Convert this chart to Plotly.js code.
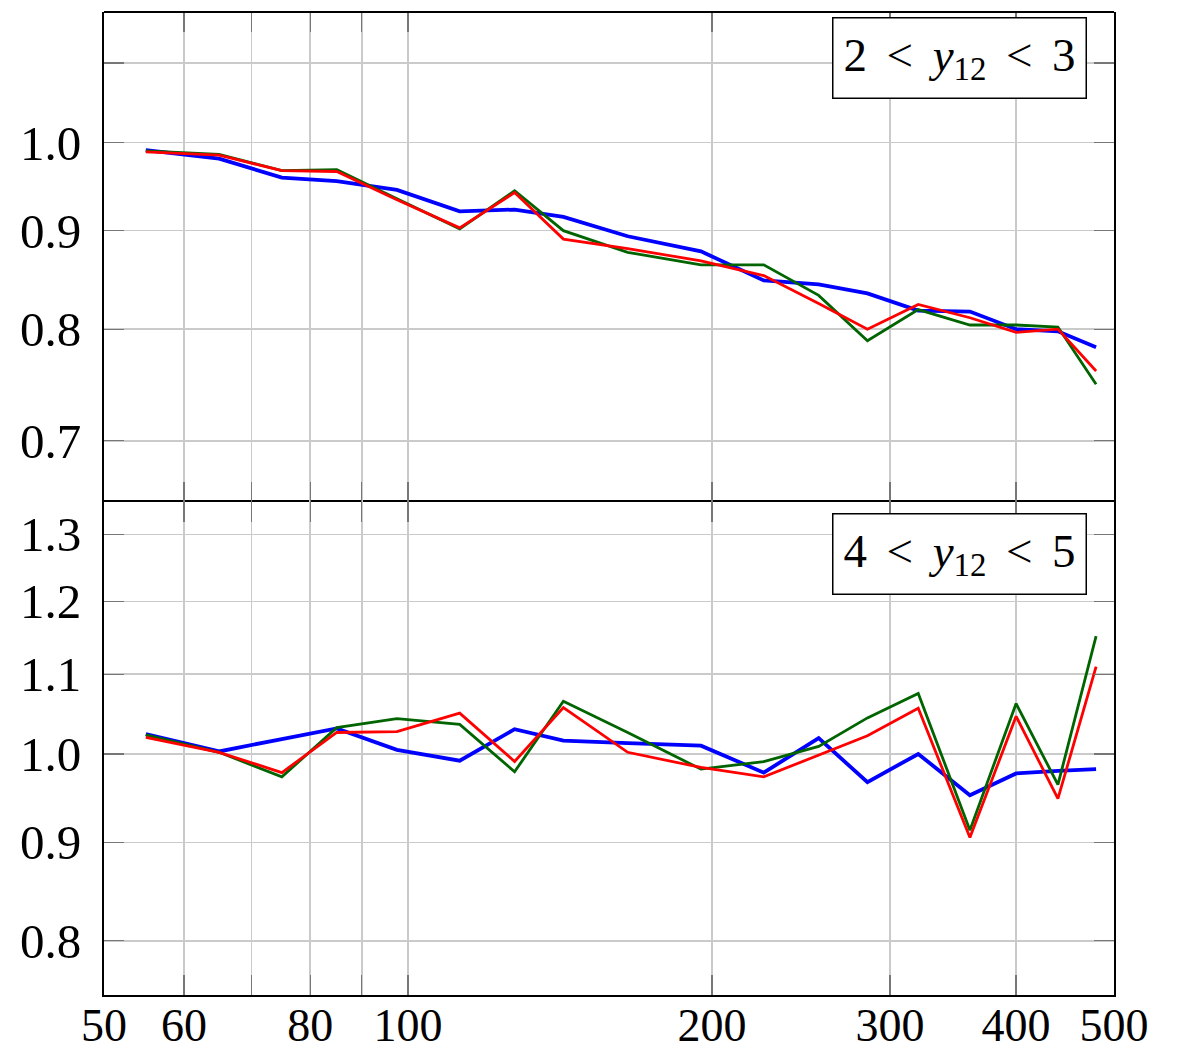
<!DOCTYPE html>
<html>
<head>
<meta charset="utf-8">
<script src="https://cdn.plot.ly/plotly-3.0.1.min.js"></script>
<style>html,body{margin:0;padding:0;background:#fff;}#chart{width:1181px;height:1051px;}</style>
</head>
<body>
<div id="chart"></div>
<script>
// Bin centres (x, log scale)
const massBins = [55, 65, 75, 85, 97.5, 112.5, 127.5, 142.5, 165, 195, 225, 255, 285, 320, 360, 400, 440, 480];

// Top panel: 2 < y12 < 3
const topBlue  = [0.991, 0.981, 0.959, 0.955, 0.945, 0.921, 0.923, 0.915, 0.894, 0.878, 0.848, 0.844, 0.835, 0.818, 0.817, 0.800, 0.798, 0.783];
const topGreen = [0.990, 0.986, 0.967, 0.968, 0.935, 0.902, 0.944, 0.900, 0.877, 0.864, 0.864, 0.833, 0.789, 0.819, 0.804, 0.804, 0.802, 0.749];
const topRed   = [0.989, 0.985, 0.967, 0.966, 0.934, 0.903, 0.942, 0.891, 0.881, 0.868, 0.853, 0.825, 0.800, 0.824, 0.811, 0.797, 0.800, 0.761];

// Bottom panel: 4 < y12 < 5
const botBlue  = [1.024, 1.003, 1.018, 1.031, 1.005, 0.992, 1.030, 1.016, 1.013, 1.010, 0.978, 1.019, 0.967, 1.000, 0.952, 0.977, 0.980, 0.982];
const botGreen = [1.023, 1.002, 0.973, 1.032, 1.043, 1.036, 0.979, 1.065, 1.026, 0.982, 0.991, 1.009, 1.044, 1.075, 0.913, 1.062, 0.964, 1.151];
const botRed   = [1.020, 1.002, 0.978, 1.026, 1.027, 1.050, 0.991, 1.057, 1.002, 0.984, 0.973, 0.999, 1.022, 1.056, 0.905, 1.046, 0.948, 1.110];

const xTickVals = [50, 60, 70, 80, 90, 100, 200, 300, 400, 500];
const xTickText = ['50', '60', '', '80', '', '100', '200', '300', '400', '500'];
const topTickVals = [0.7, 0.8, 0.9, 1.0, 1.1];
const topTickText = ['0.7', '0.8', '0.9', '1.0', ''];
const botTickVals = [0.8, 0.9, 1.0, 1.1, 1.2, 1.3];
const botTickText = ['0.8', '0.9', '1.0', '1.1', '1.2', '1.3'];
const SP = '\u2006';
const panelLabels = [
  '2' + SP + ' &lt; ' + SP + '<i>y</i><sub>12</sub>' + SP + ' &lt; ' + SP + '3',
  '4' + SP + ' &lt; ' + SP + '<i>y</i><sub>12</sub>' + SP + ' &lt; ' + SP + '5'
];

const BLUE = '#0000ff', GREEN = '#006400', RED = '#ff0000';
function tr(y, color, w, xa, ya) {
  return {x: massBins, y: y, type: 'scatter', mode: 'lines', xaxis: xa, yaxis: ya,
          line: {color: color, width: w}, hoverinfo: 'skip'};
}
const data = [
  tr(topBlue, BLUE, 3.8, 'x2', 'y'),
  tr(topGreen, GREEN, 2.8, 'x2', 'y'),
  tr(topRed, RED, 2.8, 'x2', 'y'),
  tr(botBlue, BLUE, 3.8, 'x', 'y2'),
  tr(botGreen, GREEN, 2.8, 'x', 'y2'),
  tr(botRed, RED, 2.8, 'x', 'y2')
];

const FONT = {family: 'Liberation Serif, DejaVu Serif, serif', size: 49, color: '#000'};
const XFONT = {family: 'Liberation Serif, DejaVu Serif, serif', size: 46, color: '#000'};
const common = {
  showline: true, linecolor: '#000', linewidth: 2, mirror: 'ticks',
  ticks: 'inside', ticklen: 20, tickwidth: 1.3, tickcolor: '#777',
  showgrid: true, gridcolor: '#cacaca', gridwidth: 1.4,
  zeroline: false, tickfont: FONT, automargin: false, fixedrange: true
};
const split = 0.5015;
const layout = {
  width: 1181, height: 1051,
  margin: {l: 104, r: 67, t: 12, b: 56},
  paper_bgcolor: '#fff', plot_bgcolor: '#fff',
  showlegend: false,
  xaxis: Object.assign({}, common, {
    type: 'log', anchor: 'y2', range: [Math.log10(50), Math.log10(500)], tickfont: XFONT,
    tickmode: 'array', tickvals: xTickVals, ticktext: xTickText, ticklabelstandoff: -11
  }),
  xaxis2: Object.assign({}, common, {
    type: 'log', anchor: 'y', matches: 'x', range: [Math.log10(50), Math.log10(500)],
    showline: false,
    tickmode: 'array', tickvals: xTickVals, ticktext: xTickText, showticklabels: false
  }),
  yaxis: Object.assign({}, common, {
    type: 'log', domain: [split, 1], anchor: 'x2',
    range: [Math.log10(0.6506), Math.log10(1.169)],
    tickmode: 'array', tickvals: topTickVals, ticktext: topTickText, ticklabelstandoff: 11
  }),
  yaxis2: Object.assign({}, common, {
    type: 'log', domain: [0, split], anchor: 'x',
    range: [Math.log10(0.7499), Math.log10(1.351)],
    tickmode: 'array', tickvals: botTickVals, ticktext: botTickText, ticklabelstandoff: 11
  }),
  shapes: [
    {type: 'line', xref: 'paper', yref: 'paper', x0: 0, x1: 1, y0: 1, y1: 1,
     line: {color: '#000', width: 2}}
  ],
  annotations: [
    {text: panelLabels[0], xref: 'paper', yref: 'paper', x: 0.8466, y: 0.953,
     xanchor: 'center', yanchor: 'middle', showarrow: false, font: {family: FONT.family, size: 47, color: '#000'},
     bordercolor: '#000', borderwidth: 1.5, bgcolor: '#fff', borderpad: 10},
    {text: panelLabels[1], xref: 'paper', yref: 'paper', x: 0.8466, y: 0.4488,
     xanchor: 'center', yanchor: 'middle', showarrow: false, font: {family: FONT.family, size: 47, color: '#000'},
     bordercolor: '#000', borderwidth: 1.5, bgcolor: '#fff', borderpad: 10}
  ]
};
Plotly.newPlot('chart', data, layout, {staticPlot: true, displayModeBar: false});
</script>
</body>
</html>
